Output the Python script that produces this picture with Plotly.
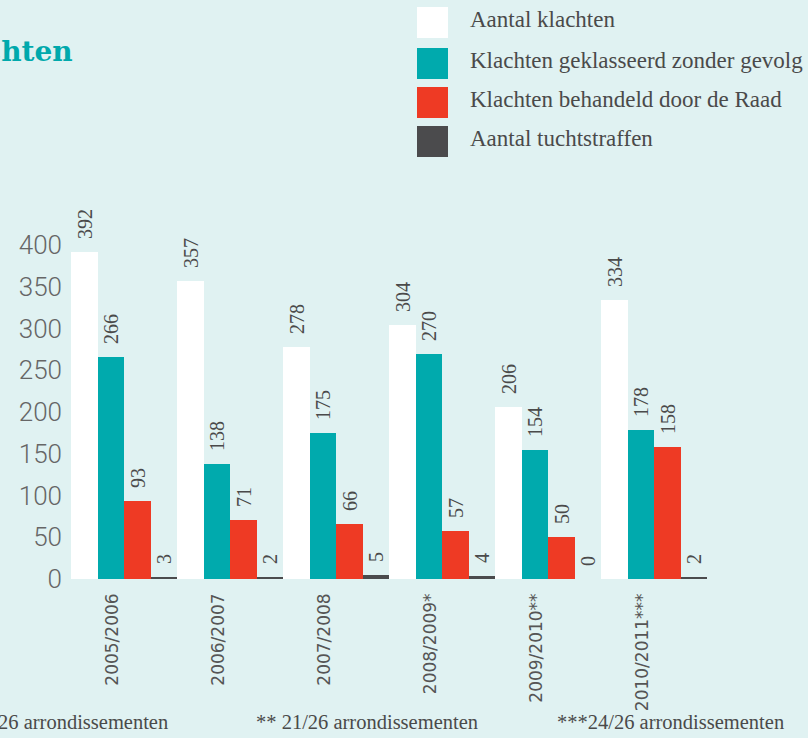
import plotly.graph_objects as go

# ---- data ----
periods = ["2005/2006", "2006/2007", "2007/2008", "2008/2009*", "2009/2010**", "2010/2011***"]
series_names = [
    "Aantal klachten",
    "Klachten geklasseerd zonder gevolg",
    "Klachten behandeld door de Raad",
    "Aantal tuchtstraffen",
]
aantal_klachten = [392, 357, 278, 304, 206, 334]
zonder_gevolg = [266, 138, 175, 270, 154, 178]
behandeld_raad = [93, 71, 66, 57, 50, 158]
tuchtstraffen = [3, 2, 5, 4, 0, 2]
y_ticks = [0, 50, 100, 150, 200, 250, 300, 350, 400]
title_text = "Klachten"
footnotes = ["26 arrondissementen", "** 21/26 arrondissementen", "***24/26 arrondissementen"]

values = [aantal_klachten, zonder_gevolg, behandeld_raad, tuchtstraffen]
colors = ["#FFFFFF", "#00AAAD", "#EE3A24", "#4B4B4D"]

BG = "#E0F2F2"
W, H = 808, 738
L, R, T, B = 71, 707, 245, 579  # plot area in pixels

SERIF = "Liberation Serif, Times New Roman, serif"


def px_x(px):
    return (px - L) / (R - L)


def px_y(py):
    return (B - py) / (B - T)


label_font = dict(family=SERIF, size=20, color="#4a4a4a")

fig = go.Figure()
for name, vals, col in zip(series_names, values, colors):
    fig.add_trace(go.Bar(
        x=periods, y=vals, name=name,
        marker=dict(color=col, line=dict(width=0)),
        text=vals, texttemplate="\u00a0\u00a0%{text}",
        textposition="outside", textangle=-90,
        textfont=label_font, outsidetextfont=label_font,
        constraintext="none", cliponaxis=False,
        showlegend=False,
    ))

shapes = []
annotations = []

# manual legend
legend_rows = [(7, 38), (48, 79), (87, 118), (126, 157)]
for (y0, y1), name, col in zip(legend_rows, series_names, colors):
    shapes.append(dict(type="rect", xref="paper", yref="paper",
                       x0=px_x(417), x1=px_x(448), y0=px_y(y1), y1=px_y(y0),
                       fillcolor=col, line=dict(width=0), layer="above"))
    annotations.append(dict(text=name, xref="paper", yref="paper",
                            x=px_x(468), y=px_y((y0 + y1) / 2 - 3),
                            xanchor="left", yanchor="middle", showarrow=False,
                            font=dict(family=SERIF, size=23, color="#4a4a4a")))

# title (cut off at the left edge, as in the source)
annotations.append(dict(text="<b>" + title_text + "</b>", xref="paper", yref="paper",
                        x=px_x(75), y=px_y(52), xanchor="right", yanchor="middle",
                        showarrow=False,
                        font=dict(family="DejaVu Serif", size=28, color="#00A9AC")))

# footnotes
for txt, xp in zip(footnotes, [-4, 254, 555]):
    annotations.append(dict(text=txt, xref="paper", yref="paper",
                            x=px_x(xp), y=px_y(722), xanchor="left", yanchor="middle",
                            showarrow=False,
                            font=dict(family=SERIF, size=20.5, color="#4a4a4a")))

fig.update_layout(
    width=W, height=H,
    margin=dict(l=L, r=W - R, t=T, b=H - B, pad=0),
    paper_bgcolor=BG, plot_bgcolor=BG,
    barmode="group", bargap=0, bargroupgap=0,
    shapes=shapes, annotations=annotations,
    showlegend=False,
)
fig.update_xaxes(
    tickangle=-90, showgrid=False, zeroline=False, showline=False, ticks="",
    tickfont=dict(family="DejaVu Sans", size=17, color="#555555"),
    ticklabelstandoff=10, ticklabelshift=-12,
)
fig.update_yaxes(
    range=[0, 400], tickvals=y_ticks, showgrid=False, zeroline=False, showline=False,
    ticks="", tickfont=dict(family="Roboto", size=26, color="#666666", weight=300),
    ticklabelstandoff=8,
)

fig.write_html(
    "out.html",
    config={"displayModeBar": False},
    post_script="document.body.style.margin='0';document.body.style.background='" + BG + "';",
)
